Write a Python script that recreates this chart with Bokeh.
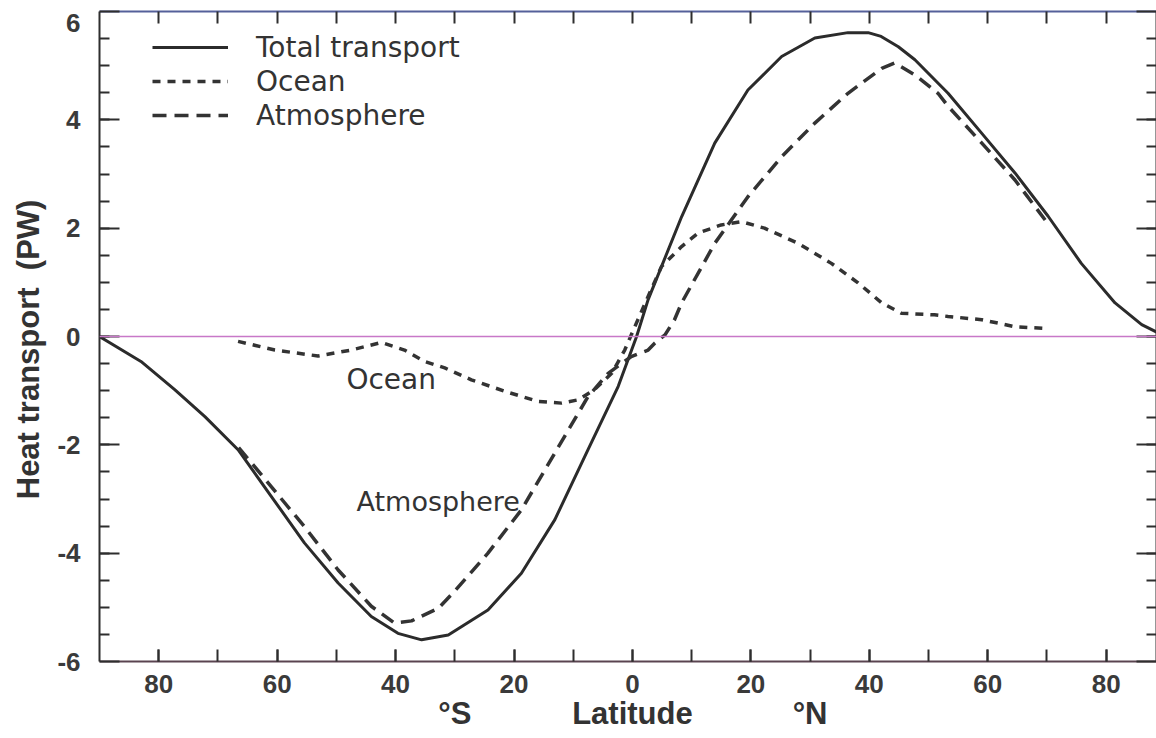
from bokeh.plotting import figure
from bokeh.models import (LinearAxis, FixedTicker, Range1d, Span, Label,
                          Legend, LegendItem)
from bokeh.embed import file_html
from bokeh.resources import INLINE

# ---------------- data ----------------
total_lat = [-90, -83, -77.3, -72.2, -66.6, -61, -55.4, -49.7, -44.1, -39.6,
             -35.6, -31.1, -24.4, -18.75, -13.1, -7.5, -2.4, 0.7, 2.65, 8.3,
             13.9, 19.5, 25.2, 30.8, 36.4, 39.8, 42, 44.9, 47.7, 53.3, 59,
             64.6, 70.2, 75.8, 81.5, 86, 90]
total_pw = [0.0, -0.46, -0.98, -1.48, -2.09, -2.95, -3.81, -4.55, -5.17, -5.48,
            -5.6, -5.51, -5.05, -4.37, -3.38, -2.09, -0.92, 0.0, 0.68, 2.21,
            3.57, 4.55, 5.17, 5.51, 5.61, 5.61, 5.54, 5.35, 5.11, 4.49, 3.75,
            3.02, 2.22, 1.35, 0.62, 0.22, 0.0]

ocean_lat = [-66.6, -60.4, -53.1, -47.5, -42.4, -38.5, -35.1, -31.7, -27.2,
             -21.6, -15.9, -12, -9.2, -6.4, -3.5, -1.3, 0.4, 2.65, 4.9, 8.3,
             11.1, 15, 18.4, 22.3, 28, 33.6, 38.1, 42.1, 45.4, 51, 53.3, 59,
             64.6, 69.7]
ocean_pw = [-0.09, -0.25, -0.36, -0.25, -0.11, -0.25, -0.46, -0.58, -0.8,
            -1.01, -1.2, -1.23, -1.17, -0.98, -0.68, -0.25, 0.18, 0.74, 1.29,
            1.66, 1.91, 2.06, 2.12, 2.0, 1.72, 1.35, 0.99, 0.62, 0.43, 0.4,
            0.37, 0.31, 0.18, 0.15]

atmos_lat = [-66.5, -61, -55.4, -49.7, -44.1, -40.2, -37.3, -32.8, -30, -24.4,
             -18.75, -13.1, -7.5, -4.1, -0.2, 2.65, 3.8, 5.5, 7.1, 8.3, 13.9,
             16.7, 19.5, 25.2, 30.8, 36.4, 42.1, 44.3, 47.7, 51.6, 53.3, 59,
             64.6, 69.7]
atmos_pw = [-2.05, -2.77, -3.51, -4.31, -4.98, -5.29, -5.25, -5.02, -4.7, -4.0,
            -3.2, -2.15, -1.11, -0.68, -0.37, -0.25, -0.12, 0.03, 0.31, 0.62,
            1.72, 2.15, 2.58, 3.32, 3.94, 4.49, 4.95, 5.05, 4.83, 4.49, 4.25,
            3.57, 2.89, 2.15]

series_names = ["Total transport", "Ocean", "Atmosphere"]

x_tick_values = [-80, -60, -40, -20, 0, 20, 40, 60, 80]
x_tick_labels = ["80", "60", "40", "20", "0", "20", "40", "60", "80"]
x_minor_values = [-80, -70, -60, -50, -40, -30, -20, -10, 0, 10, 20, 30, 40,
                  50, 60, 70, 80]
y_tick_values = [-6, -4, -2, 0, 2, 4, 6]
# the top label sits just under its tick in the reference
y_tick_labels = ["-6", "-4", "-2", "0", "2", "4", "\n6"]
y_minor_values = [-5.5, -5, -4.5, -4, -3.5, -3, -2.5, -2, -1.5, -1, -0.5, 0,
                  0.5, 1, 1.5, 2, 2.5, 3, 3.5, 4, 4.5, 5, 5.5]

# axis title row below the latitude labels
x_title_positions = [-30, 0, 30]
x_title_texts = ["°S", "Latitude", "°N"]
y_title = "Heat transport\u00a0\u00a0(PW)\u00a0\u00a0\u00a0"

# ---------------- figure ----------------
INK = "#2e2e2e"
LABEL_INK = "#3a3a3a"

p = figure(width=1156, height=738, x_range=Range1d(-90, 88.5),
           y_range=Range1d(-6, 6), output_backend="svg",
           toolbar_location=None, min_border_left=99, min_border_right=0,
           min_border_top=11, min_border_bottom=77)
p.outline_line_color = None
p.xgrid.visible = False
p.ygrid.visible = False
p.background_fill_color = "white"
p.border_fill_color = "white"

# bottom axis
xa = p.xaxis[0]
xa.ticker = FixedTicker(ticks=x_tick_values, minor_ticks=x_minor_values)
xa.major_label_overrides = {v: t for v, t in zip(x_tick_values, x_tick_labels)}
xa.major_tick_in = 12
xa.major_tick_out = 0
xa.minor_tick_in = 12
xa.minor_tick_out = 0
xa.axis_line_color = "#5a4450"
xa.axis_line_width = 2
xa.major_tick_line_color = INK
xa.major_tick_line_width = 2
xa.minor_tick_line_color = INK
xa.minor_tick_line_width = 2
xa.major_label_standoff = 13
xa.major_label_text_font = "Liberation Sans"
xa.major_label_text_font_style = "bold"
xa.major_label_text_font_size = "26px"
xa.major_label_text_color = LABEL_INK

# second row below: °S   Latitude   °N
xt = LinearAxis(ticker=FixedTicker(ticks=x_title_positions, minor_ticks=[]),
                major_label_overrides={v: t for v, t in
                                       zip(x_title_positions, x_title_texts)},
                axis_line_color=None, major_tick_line_color=None,
                minor_tick_line_color=None, major_tick_in=0,
                major_tick_out=0, minor_tick_in=0, minor_tick_out=0,
                major_label_standoff=0,
                major_label_text_font="Liberation Sans",
                major_label_text_font_style="bold",
                major_label_text_font_size="31px",
                major_label_text_color="#333333")
p.add_layout(xt, "below")

# left axis
ya = p.yaxis[0]
ya.ticker = FixedTicker(ticks=y_tick_values, minor_ticks=y_minor_values)
ya.major_label_overrides = {v: t for v, t in zip(y_tick_values, y_tick_labels)}
ya.major_tick_in = 20
ya.major_tick_out = 0
ya.minor_tick_in = 10
ya.minor_tick_out = 0
ya.axis_line_color = INK
ya.axis_line_width = 2
ya.major_tick_line_color = INK
ya.major_tick_line_width = 2
ya.minor_tick_line_color = INK
ya.minor_tick_line_width = 2
ya.major_label_standoff = 19
ya.major_label_text_font = "Liberation Sans"
ya.major_label_text_font_style = "bold"
ya.major_label_text_font_size = "26px"
ya.major_label_text_line_height = 0.25
ya.major_label_text_color = LABEL_INK
ya.axis_label = y_title
ya.axis_label_text_font = "Liberation Sans"
ya.axis_label_text_font_style = "bold"
ya.axis_label_text_font_size = "31px"
ya.axis_label_text_color = "#333333"
ya.axis_label_standoff = 8

# top axis (ticks only)
top = LinearAxis(ticker=FixedTicker(ticks=x_minor_values, minor_ticks=[]),
                 major_tick_in=12, major_tick_out=0, minor_tick_in=0,
                 minor_tick_out=0, axis_line_color="#55609a",
                 axis_line_width=2, major_tick_line_color=INK,
                 major_tick_line_width=2, major_label_standoff=0,
                 major_label_text_font_size="0px", major_label_text_alpha=0)
p.add_layout(top, "above")

# right axis (ticks only)
right = LinearAxis(ticker=FixedTicker(ticks=y_tick_values,
                                      minor_ticks=y_minor_values),
                   major_tick_in=20, major_tick_out=0, minor_tick_in=10,
                   minor_tick_out=0, axis_line_color=INK, axis_line_width=2,
                   major_tick_line_color=INK, major_tick_line_width=2,
                   minor_tick_line_color=INK, minor_tick_line_width=2,
                   major_label_standoff=0, major_label_text_font_size="0px",
                   major_label_text_alpha=0)
p.add_layout(right, "right")

# zero line
p.add_layout(Span(location=0, dimension="width", line_color="#c878c8",
                  line_width=1.5))

# curves
r_total = p.line(total_lat, total_pw, line_color="#2b2b2b", line_width=3)
r_ocean = p.line(ocean_lat, ocean_pw, line_color="#333333", line_width=3.5,
                 line_dash="8 7")
r_atmos = p.line(atmos_lat, atmos_pw, line_color="#333333", line_width=3.5,
                 line_dash="14 8")

legend = Legend(items=[LegendItem(label=series_names[0], renderers=[r_total]),
                       LegendItem(label=series_names[1], renderers=[r_ocean]),
                       LegendItem(label=series_names[2], renderers=[r_atmos])],
                location=(53, 529), border_line_color=None,
                background_fill_alpha=0, label_text_font="DejaVu Sans",
                label_text_font_size="28px", label_text_color="#333333",
                glyph_width=76, glyph_height=34, label_height=34,
                label_standoff=28, spacing=0, padding=0, margin=0)
p.add_layout(legend)

# in-plot labels
p.add_layout(Label(x=-48.3, y=-0.8, text="Ocean", text_font="DejaVu Sans",
                   text_font_size="28px", text_color="#333333",
                   text_baseline="middle", text_align="left"))
p.add_layout(Label(x=-46.6, y=-3.05, text="Atmosphere",
                   text_font="DejaVu Sans", text_font_size="27px",
                   text_color="#333333", text_baseline="middle",
                   text_align="left"))

open("out.html", "w").write(file_html(p, INLINE))
